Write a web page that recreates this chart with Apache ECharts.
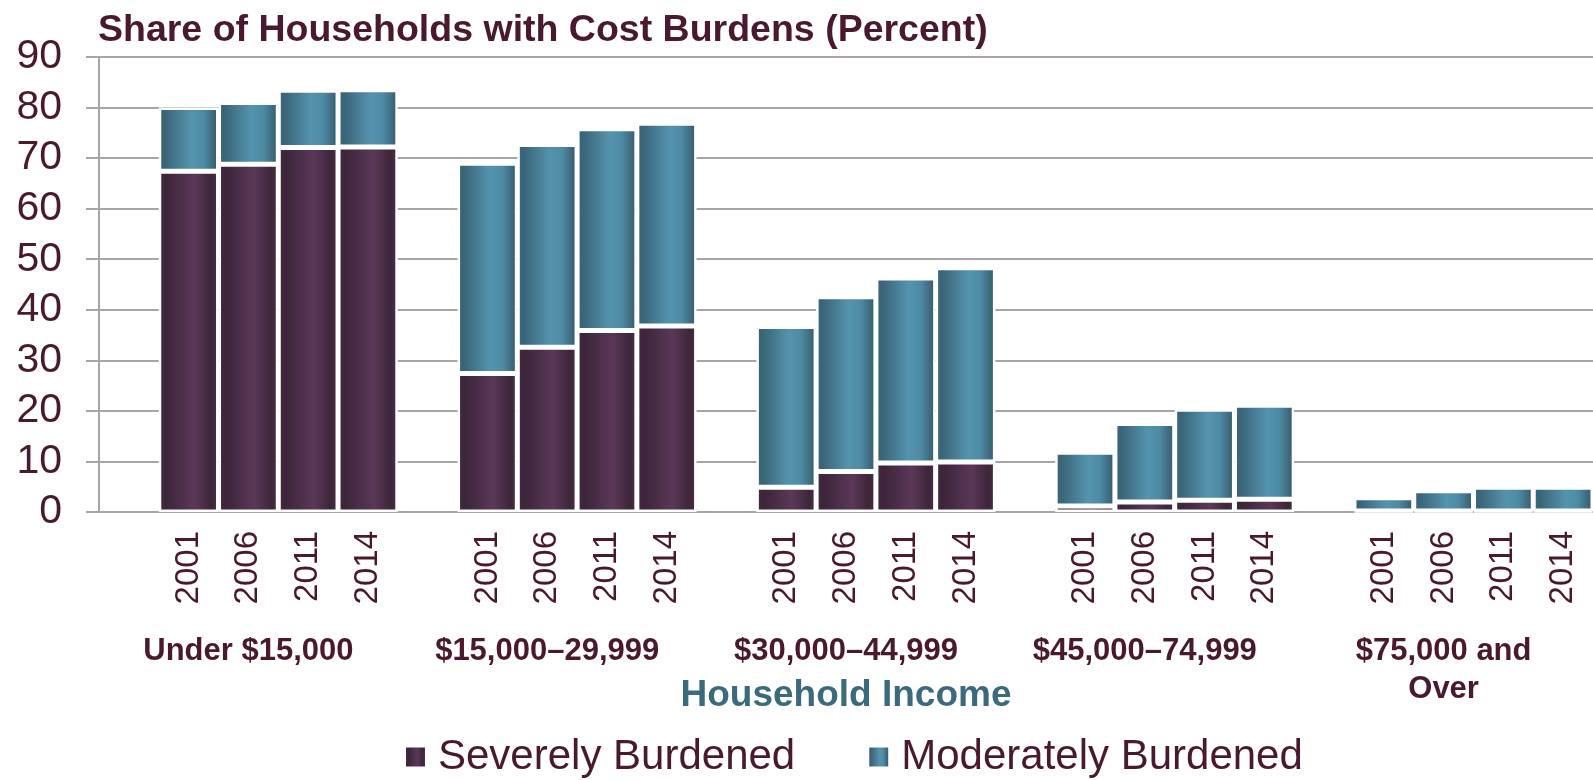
<!DOCTYPE html>
<html>
<head>
<meta charset="utf-8">
<script src="https://cdn.jsdelivr.net/npm/echarts@6/dist/echarts.min.js"></script>
<style>
  html, body { margin: 0; padding: 0; background: #ffffff; }
  #chart { width: 1593px; height: 780px; }
</style>
</head>
<body>
<div id="chart"></div>
<script>
// Income groups (one blank slot before each group of four survey years)
const incomeGroups = ['Under $15,000', '$15,000–29,999', '$30,000–44,999', '$45,000–74,999', '$75,000 and\nOver'];
const years = ['2001', '2006', '2011', '2014'];

// Share of households (percent) by income group, in survey-year order
const severelyBurdened = [
  [67.4, 68.8, 72.1, 72.2],
  [27.4, 32.6, 35.9, 36.8],
  [4.9, 8.0, 9.7, 9.9],
  [1.2, 2.0, 2.3, 2.5],
  [0.2, 0.2, 0.2, 0.2]
];
const moderatelyBurdened = [
  [12.6, 12.2, 11.3, 11.3],
  [41.6, 40.1, 39.9, 40.1],
  [31.8, 34.6, 36.6, 38.4],
  [10.6, 15.5, 18.0, 18.6],
  [2.6, 4.0, 4.7, 4.7]
];

const yTicks = { min: 0, max: 90, interval: 10 };

// Flatten into one category axis: a gap slot, then the four years, per group
const categories = [];
const severeData = [];
const moderateData = [];
incomeGroups.forEach((g, gi) => {
  categories.push('');
  severeData.push('-');
  moderateData.push('-');
  years.forEach((y, yi) => {
    categories.push(y);
    severeData.push(severelyBurdened[gi][yi]);
    moderateData.push(moderatelyBurdened[gi][yi]);
  });
});

const FONT = '"Liberation Sans", Arial, sans-serif';
const TEXT = '#4a1930';
const GRID = '#a9a4a7';

const severeFill = new echarts.graphic.LinearGradient(0, 0, 1, 0, [
  { offset: 0, color: '#432c44' },
  { offset: 0.12, color: '#3c2539' },
  { offset: 0.6, color: '#5a3858' },
  { offset: 0.88, color: '#3d2639' },
  { offset: 1, color: '#4a3048' }
]);
const moderateFill = new echarts.graphic.LinearGradient(0, 0, 1, 0, [
  { offset: 0, color: '#3d687b' },
  { offset: 0.1, color: '#3a6477' },
  { offset: 0.55, color: '#5594ae' },
  { offset: 0.75, color: '#4e8aa3' },
  { offset: 0.95, color: '#3a6275' },
  { offset: 1, color: '#3f697c' }
]);

const chart = echarts.init(document.getElementById('chart'), null, { renderer: 'canvas' });

chart.setOption({
  animation: false,
  backgroundColor: '#ffffff',
  textStyle: { fontFamily: FONT },
  title: {
    text: 'Share of Households with Cost Burdens (Percent)',
    left: 98,
    top: 12,
    padding: 0,
    textStyle: { fontFamily: FONT, fontSize: 37.5, fontWeight: 'bold', color: TEXT }
  },
  legend: {
    left: 406,
    top: 736,
    padding: 0,
    itemWidth: 19,
    itemHeight: 19,
    itemGap: 74,
    icon: 'rect',
    itemStyle: { borderWidth: 0 },
    textStyle: { fontFamily: FONT, fontSize: 42, color: TEXT, padding: [0, 0, 0, 8] },
    data: ['Severely Burdened', 'Moderately Burdened']
  },
  grid: { left: 99, right: 0, top: 57, bottom: 268, containLabel: false },
  xAxis: [
    {
      type: 'category',
      data: categories,
      boundaryGap: true,
      axisLine: { show: true, lineStyle: { color: GRID, width: 2 } },
      axisTick: { show: false },
      axisLabel: {
        interval: 0,
        rotate: 90,
        margin: 19,
        fontFamily: FONT,
        fontSize: 33,
        color: TEXT
      },
      splitLine: { show: false }
    },
    {
      type: 'category',
      position: 'bottom',
      data: incomeGroups,
      boundaryGap: true,
      axisLine: { show: false },
      axisTick: { show: false },
      splitLine: { show: false },
      axisLabel: {
        interval: 0,
        margin: 120,
        fontFamily: FONT,
        fontSize: 31,
        fontWeight: 'bold',
        color: TEXT,
        lineHeight: 38,
        verticalAlign: 'top'
      },
      name: 'Household Income',
      nameLocation: 'middle',
      nameGap: 165,
      nameMoveOverlap: false,
      nameTextStyle: { fontFamily: FONT, fontSize: 37, fontWeight: 'bold', color: '#3a6a7c' }
    }
  ],
  yAxis: {
    type: 'value',
    min: yTicks.min,
    max: yTicks.max,
    interval: yTicks.interval,
    axisLine: { show: true, lineStyle: { color: GRID, width: 2 } },
    axisTick: { show: true, length: 13, lineStyle: { color: GRID, width: 2 } },
    axisLabel: { margin: 37, fontFamily: FONT, fontSize: 41, color: TEXT },
    splitLine: { show: true, lineStyle: { color: GRID, width: 2 } }
  },
  series: [
    {
      name: 'Severely Burdened',
      type: 'bar',
      stack: 'share',
      xAxisIndex: 0,
      barCategoryGap: '0%',
      data: severeData,
      itemStyle: { color: severeFill, borderColor: '#ffffff', borderWidth: 2.5 }
    },
    {
      name: 'Moderately Burdened',
      type: 'bar',
      stack: 'share',
      xAxisIndex: 0,
      barCategoryGap: '0%',
      data: moderateData,
      itemStyle: { color: moderateFill, borderColor: '#ffffff', borderWidth: 2.5 }
    }
  ]
});
</script>
</body>
</html>
